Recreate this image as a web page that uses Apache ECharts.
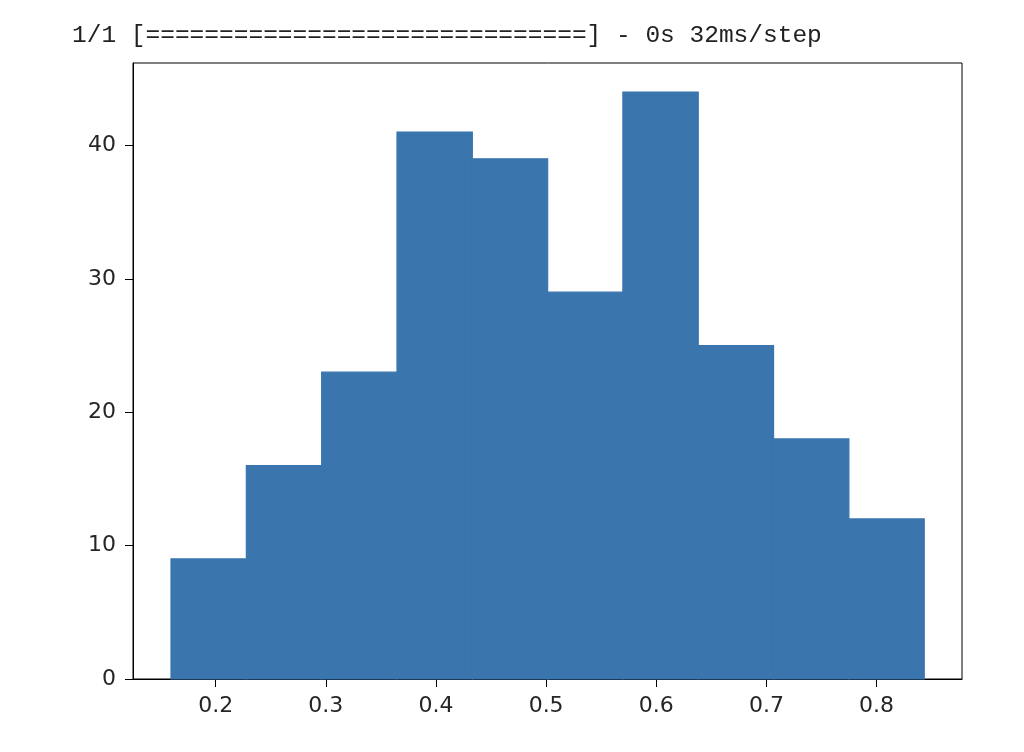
<!DOCTYPE html>
<html>
<head>
<meta charset="utf-8">
<script src="https://cdn.jsdelivr.net/npm/echarts@6/dist/echarts.min.js"></script>
<style>
html,body{margin:0;padding:0;background:#fff;}
#c{width:1024px;height:752px;}
</style>
</head>
<body>
<div id="c"></div>
<script>
const headerText = '1/1 [==============================] - 0s 32ms/step';
const binEdges = [0.1594, 0.2278, 0.2962, 0.3646, 0.4330, 0.5014, 0.5697, 0.6381, 0.7065, 0.7749, 0.8433];
const counts = [9, 16, 23, 41, 39, 29, 44, 25, 18, 12];
const xTicks = [0.2, 0.3, 0.4, 0.5, 0.6, 0.7, 0.8];
const yTicks = [0, 10, 20, 30, 40];

const histData = counts.map((c, i) => [binEdges[i], binEdges[i + 1], c]);

const chart = echarts.init(document.getElementById('c'), null, {renderer: 'canvas'});
const axisCol = '#000';
const labCol = '#262626';
chart.setOption({
  animation: false,
  backgroundColor: '#fff',
  title: {
    text: headerText,
    left: 67, top: 18,
    textStyle: {fontFamily: 'Liberation Mono', fontSize: 24.5, fontWeight: 'normal', color: '#222'}
  },
  grid: {left: 133, right: 62, top: 63, bottom: 73, show: true, borderColor: axisCol, borderWidth: 1, backgroundColor: 'transparent'},
  xAxis: {
    type: 'value', min: 0.1249, max: 0.8776,
    splitLine: {show: false},
    axisLine: {show: true, onZero: false, lineStyle: {color: axisCol, width: 1}},
    axisTick: {show: true, length: 8, lineStyle: {color: axisCol}, customValues: xTicks},
    axisLabel: {customValues: xTicks, margin: 16, fontFamily: 'DejaVu Sans', fontSize: 22, color: labCol,
      formatter: v => v.toFixed(1)}
  },
  yAxis: {
    type: 'value', min: 0, max: 46.18,
    splitLine: {show: false},
    axisLine: {show: true, lineStyle: {color: axisCol, width: 1}},
    axisTick: {show: true, length: 8, lineStyle: {color: axisCol}, customValues: yTicks},
    axisLabel: {customValues: yTicks, margin: 17, fontFamily: 'DejaVu Sans', fontSize: 22, color: labCol}
  },
  series: [{
    type: 'custom',
    data: histData,
    encode: {x: [0, 1], y: 2},
    renderItem: function (params, api) {
      const p0 = api.coord([api.value(0), api.value(2)]);
      const p1 = api.coord([api.value(1), 0]);
      return {
        type: 'rect',
        shape: {x: p0[0], y: p0[1], width: p1[0] - p0[0], height: p1[1] - p0[1]},
        style: {fill: '#3a75ae', stroke: '#3a75ae', lineWidth: 1.2}
      };
    }
  }]
});
</script>
</body>
</html>
